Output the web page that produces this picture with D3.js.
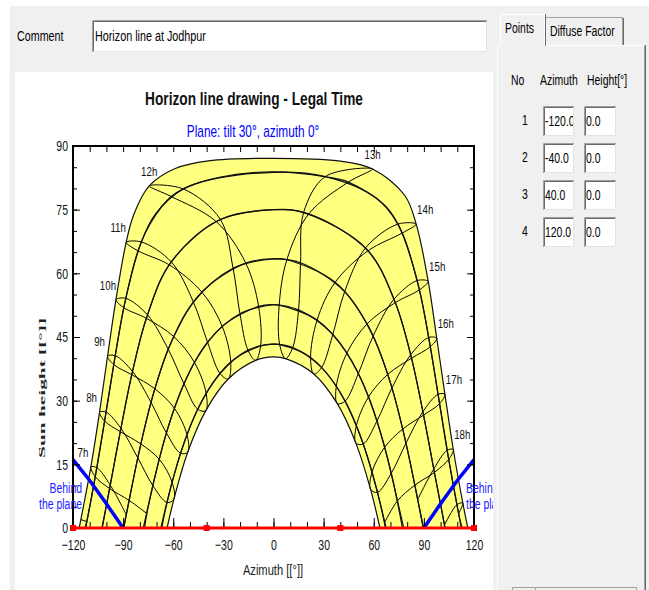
<!DOCTYPE html>
<html>
<head>
<meta charset="utf-8">
<script src="https://cdn.jsdelivr.net/npm/d3@7"></script>
<style>
body { margin: 0; background: #fff; }
svg { display: block; font-family: "Liberation Sans", Arial, sans-serif; }
</style>
</head>
<body>
<svg id="chart" width="649" height="590"></svg>
<script>
// legal hours of the hour lines
const hours = [6, 7, 8, 9, 10, 11, 12, 13, 14, 15, 16, 17, 18, 19];
const dateNames = ['19 Jan', '21 Feb', '20 Mar', '20 Apr', '22 May', '22 Jun', '23 Jul', '23 Aug', '23 Sep', '23 Oct', '22 Nov', '22 Dec'];

// sun azimuth / height at each legal hour (null = sun below horizon)
const azJan = [null, null, -63.7, -55.6, -45.4, -32.0, -15.3, 3.7, 22.2, 37.6, 49.6, 59.0, 66.4, null];
const hJan  = [null, null, 6.0, 17.6, 28.0, 36.4, 41.9, 43.2, 40.2, 33.4, 24.1, 13.2, 1.2, null];
const azFeb = [null, null, -72.2, -64.1, -53.6, -39.5, -20.1, 3.4, 26.1, 43.9, 56.9, 66.5, 74.2, null];
const hFeb  = [null, null, 10.0, 22.4, 34.0, 43.8, 50.5, 52.5, 49.0, 41.2, 30.9, 19.0, 6.4, null];
const azMar = [null, -88.1, -81.2, -73.3, -63.0, -47.9, -24.2, 8.0, 36.9, 56.0, 68.4, 77.3, 84.6, null];
const hMar  = [null, 3.1, 16.5, 29.6, 42.1, 53.2, 61.2, 63.2, 57.9, 48.1, 36.2, 23.3, 10.1, null];
const azApr = [null, -97.7, -91.3, -84.4, -75.4, -61.2, -31.8, 21.1, 56.5, 72.9, 82.6, 89.8, 96.3, null];
const hApr  = [null, 10.1, 23.5, 36.9, 50.2, 62.7, 72.7, 74.0, 65.3, 53.1, 40.0, 26.6, 13.1, null];
const azMay = [-111.8, -105.7, -100.2, -94.7, -88.4, -79.1, -54.1, 44.8, 77.1, 87.3, 93.8, 99.4, 104.9, 110.8];
const hMay  = [1.5, 14.2, 27.3, 40.6, 54.1, 67.4, 79.9, 81.5, 69.5, 56.1, 42.7, 29.3, 16.2, 3.4];
const azJun = [-115.3, -109.3, -104.1, -99.3, -94.3, -88.2, -74.4, 59.3, 85.4, 92.6, 97.7, 102.6, 107.6, 113.3];
const hJun  = [2.0, 14.4, 27.3, 40.5, 53.8, 67.3, 80.6, 84.6, 71.6, 58.1, 44.7, 31.5, 18.5, 5.9];
const azJul = [null, -106.7, -101.1, -95.6, -89.6, -81.1, -61.2, 31.0, 74.4, 86.0, 92.9, 98.5, 103.9, 109.8];
const hJul  = [null, 12.1, 25.2, 38.5, 51.9, 65.3, 78.1, 82.8, 71.6, 58.3, 44.9, 31.5, 18.3, 5.5];
const azAug = [null, -98.1, -91.7, -84.8, -76.1, -62.4, -34.3, 18.0, 55.1, 72.1, 82.1, 89.4, 95.9, 102.3];
const hAug  = [null, 9.3, 22.7, 36.1, 49.4, 62.0, 72.2, 74.3, 66.0, 53.9, 40.8, 27.4, 13.9, 0.7];
const azSep = [null, -86.4, -79.4, -71.0, -59.7, -42.9, -16.6, 16.2, 42.6, 59.6, 70.9, 79.3, 86.3, null];
const hSep  = [null, 6.5, 19.8, 32.8, 45.1, 55.6, 62.4, 62.5, 55.7, 45.2, 33.0, 20.0, 6.7, null];
const azOct = [null, -75.8, -68.4, -59.3, -47.3, -30.7, -8.9, 15.0, 35.5, 50.8, 61.9, 70.5, null, null];
const hOct  = [null, 3.4, 16.2, 28.2, 39.0, 47.5, 52.2, 51.4, 45.6, 36.4, 25.2, 12.9, null, null];
const azNov = [null, null, -60.7, -51.8, -40.3, -25.6, -7.7, 11.5, 28.8, 42.9, 53.7, 62.2, null, null];
const hNov  = [null, null, 10.8, 22.0, 31.7, 39.1, 42.9, 42.5, 37.8, 29.9, 19.8, 8.4, null, null];
const azDec = [null, null, -59.6, -51.3, -40.6, -27.1, -10.7, 7.2, 24.1, 38.2, 49.3, 58.1, null, null];
const hDec  = [null, null, 6.8, 17.9, 27.6, 35.1, 39.5, 39.9, 36.3, 29.3, 20.0, 9.1, null, null];

// sunrise / sunset azimuths
const riseAz = [-66.9, -77.9, -89.6, -102.7, -112.8, -116.3, -112.4, -102.5, -89.8, -77.2, -67.4, -63.7];
const setAz  = [66.9, 77.9, 89.6, 102.7, 112.8, 116.3, 112.4, 102.5, 89.8, 77.2, 67.4, 63.7];

// extra points of the date curves around noon
const noonAzJan = [0], noonHJan = [43.3];
const noonAzFeb = [0], noonHFeb = [52.6];
const noonAzMar = [0], noonHMar = [63.4];
const noonAzApr = [0], noonHApr = [75.0];
const noonAzMay = [-70.8, -31.7, 0, 31.7, 67.1], noonHMay = [73.9, 82.7, 83.9, 82.7, 75.8];
const noonAzJun = [-83.5, -58.8, -38.9, 0, 38.9, 78.5], noonHJun = [74.0, 84.7, 86.5, 87.1, 86.5, 78.4];
const noonAzJul = [-73.6, -42.4, 0, 61.3], noonHJul = [71.8, 81.6, 83.8, 77.8];
const noonAzAug = [0], noonHAug = [75.0];
const noonAzSep = [0], noonHSep = [63.4];
const noonAzOct = [0], noonHOct = [52.6];
const noonAzNov = [0], noonHNov = [43.3];
const noonAzDec = [0], noonHDec = [40.3];

// "behind the plane" limits and horizon line points
const behindAzL = [-120, -110, -100, -90], behindHL = [16.1, 11.2, 5.7, 0];
const behindAzR = [90, 100, 110, 120], behindHR = [0, 5.7, 11.2, 16.1];
const horizonAz = [-120, -40, 40, 120], horizonH = [0, 0, 0, 0];

const xTicks = [-120, -90, -60, -30, 0, 30, 60, 90, 120];
const yTicks = [0, 15, 30, 45, 60, 75, 90];
const labelHours = [7, 8, 9, 10, 11, 12, 13, 14, 15, 16, 17, 18];

// table on the right
const pointNo = ['1', '2', '3', '4'];
const pointAz = ['-120.0', '-40.0', '40.0', '120.0'];
const pointH = ['0.0', '0.0', '0.0', '0.0'];

const dateAz = [azJan, azFeb, azMar, azApr, azMay, azJun, azJul, azAug, azSep, azOct, azNov, azDec];
const dateH = [hJan, hFeb, hMar, hApr, hMay, hJun, hJul, hAug, hSep, hOct, hNov, hDec];
const noonAz = [noonAzJan, noonAzFeb, noonAzMar, noonAzApr, noonAzMay, noonAzJun, noonAzJul, noonAzAug, noonAzSep, noonAzOct, noonAzNov, noonAzDec];
const noonH = [noonHJan, noonHFeb, noonHMar, noonHApr, noonHMay, noonHJun, noonHJul, noonHAug, noonHSep, noonHOct, noonHNov, noonHDec];

const SX = 0.74; // the screenshot is squeezed horizontally
const svg = d3.select('#chart');

function label(parent, x, y, str, size, opts) {
    opts = opts || {};
    return parent.append('text')
        .attr('transform', `translate(${x},${y}) scale(${opts.sx || SX},1)`)
        .attr('text-anchor', opts.anchor || 'start')
        .attr('font-size', size)
        .attr('font-weight', opts.bold ? 'bold' : null)
        .attr('fill', opts.color || '#000')
        .text(str);
}

function sunken(x0, y0, w, h) {
    svg.append('rect').attr('x', x0).attr('y', y0).attr('width', w).attr('height', h).attr('fill', '#fff');
    svg.append('path').attr('d', `M${x0 + 0.5},${y0 + h}V${y0 + 0.5}H${x0 + w}`).attr('fill', 'none').attr('stroke', '#a0a0a0');
    svg.append('path').attr('d', `M${x0 + 1.5},${y0 + h - 1}V${y0 + 1.5}H${x0 + w - 1}`).attr('fill', 'none').attr('stroke', '#696969');
    svg.append('path').attr('d', `M${x0 + 1},${y0 + h - 0.5}H${x0 + w - 0.5}V${y0 + 1}`).attr('fill', 'none').attr('stroke', '#e3e3e3');
}

// window background
svg.append('rect').attr('x', 10).attr('y', 6).attr('width', 639).attr('height', 584).attr('fill', '#f0f0f0');
svg.append('rect').attr('x', 15).attr('y', 72).attr('width', 478).attr('height', 518).attr('fill', '#fff');

// comment field
label(svg, 17, 41, 'Comment', 14.5);
sunken(92, 20, 395, 32);
label(svg, 95, 41, 'Horizon line at Jodhpur', 15, { sx: 0.72 });

// tabs and pane
svg.append('path').attr('d', 'M497.5,590V45.5H500.5M545.5,45.5H644.5').attr('fill', 'none').attr('stroke', '#fff');
svg.append('path').attr('d', 'M644.5,45.5V590').attr('fill', 'none').attr('stroke', '#a0a0a0');
svg.append('path').attr('d', 'M645.5,45V590').attr('fill', 'none').attr('stroke', '#696969');
svg.append('path').attr('d', 'M545.5,45V17.5H622.5V45').attr('fill', '#f0f0f0').attr('stroke', '#a0a0a0');
svg.append('path').attr('d', 'M623.5,18V45').attr('stroke', '#696969');
svg.append('path').attr('d', 'M500.5,46V14.5H544.5V46').attr('fill', '#f0f0f0').attr('stroke', '#fff');
svg.append('path').attr('d', 'M545.5,14V46').attr('stroke', '#696969');
label(svg, 505, 33, 'Points', 14.5, { sx: 0.72 });
label(svg, 550, 36, 'Diffuse Factor', 14.5, { sx: 0.72 });

label(svg, 511, 85, 'No', 14.5, { sx: 0.72 });
label(svg, 540, 85, 'Azimuth', 14.5, { sx: 0.72 });
label(svg, 587, 85, 'Height[°]', 14.5, { sx: 0.72 });

const defs = svg.append('defs');
pointNo.forEach((n, i) => {
    const top = 106 + i * 37;
    label(svg, 525, top + 19, n, 14.5, { anchor: 'middle', sx: 0.72 });
    sunken(543, top, 31, 30);
    sunken(584, top, 32, 30);
    defs.append('clipPath').attr('id', 'cb' + i)
        .append('rect').attr('x', 545).attr('y', top).attr('width', 28).attr('height', 30);
    label(svg.append('g').attr('clip-path', `url(#cb${i})`), 545, top + 20, pointAz[i], 14.5, { sx: 0.72 });
    label(svg, 586, top + 20, pointH[i], 14.5, { sx: 0.72 });
});
svg.append('path').attr('d', 'M512.5,598V587.5H636.5V598M535.5,587V598').attr('fill', 'none').attr('stroke', '#a0a0a0');

// CHART

const x = d3.scaleLinear().domain([-120, 120]).range([73, 474]);
const y = d3.scaleLinear().domain([0, 90]).range([528, 146]);

defs.append('clipPath').attr('id', 'plot')
    .append('rect').attr('x', 73).attr('y', 146).attr('width', 401).attr('height', 382);

const plot = svg.append('g').attr('clip-path', 'url(#plot)');

const curveLine = d3.line()
    .x(d => x(d[0]))
    .y(d => y(d[1]))
    .curve(d3.curveCatmullRom.alpha(0.5));

function datePoints(d) {
    const pts = [[riseAz[d], 0], [setAz[d], 0]];
    hours.forEach((t, i) => {
        if (dateAz[d][i] !== null) pts.push([dateAz[d][i], dateH[d][i]]);
    });
    noonAz[d].forEach((a, i) => pts.push([a, noonH[d][i]]));
    return pts.sort((a, b) => a[0] - b[0]);
}

// yellow band between the solstices
const juneD = curveLine(datePoints(5));
const decD = curveLine(datePoints(11).reverse());
plot.append('path')
    .attr('d', juneD + 'L' + decD.slice(1) + 'Z')
    .attr('fill', '#ffff80');

// hour lines (analemmas)
hours.forEach((t, i) => {
    const pts = [];
    dateAz.forEach((arr, d) => {
        if (arr[i] !== null) pts.push([arr[i], dateH[d][i]]);
    });
    const closed = pts.length === dateAz.length;
    plot.append('path')
        .attr('d', d3.line().x(d => x(d[0])).y(d => y(d[1]))
            .curve(closed ? d3.curveCatmullRomClosed.alpha(0.5) : d3.curveCatmullRom.alpha(0.5))(pts))
        .attr('fill', 'none')
        .attr('stroke', '#000')
        .attr('stroke-width', 1);
});

// date curves
dateNames.forEach((n, d) => {
    plot.append('path')
        .attr('d', curveLine(datePoints(d)))
        .attr('fill', 'none')
        .attr('stroke', '#111')
        .attr('stroke-width', 1.2);
});

// behind the plane
const straight = d3.line().x(d => x(d[0])).y(d => y(d[1]));
[[behindAzL, behindHL], [behindAzR, behindHR]].forEach(([az, h]) => {
    svg.append('path')
        .attr('d', straight(az.map((a, i) => [a, h[i]])))
        .attr('fill', 'none')
        .attr('stroke', '#0000ff')
        .attr('stroke-width', 3.5);
});

// frame and axes
svg.append('rect').attr('x', 73).attr('y', 146).attr('width', 401).attr('height', 382)
    .attr('fill', 'none').attr('stroke', '#000').attr('stroke-width', 2);

function axis(gen, tx, ty, values, size, withLabels, pad) {
    const g = svg.append('g')
        .attr('transform', `translate(${tx},${ty})`)
        .call(gen.tickValues(values).tickSize(size).tickPadding(pad || 3)
            .tickFormat(withLabels ? d3.format('d') : ''));
    g.select('.domain').remove();
    g.selectAll('line').attr('stroke', '#000');
    g.selectAll('text')
        .attr('font-size', 15)
        .attr('font-family', '"Liberation Sans", Arial, sans-serif')
        .attr('fill', '#111')
        .attr('transform', 'scale(0.7,1)');
    return g;
}

axis(d3.axisBottom(x), 0, 528, d3.range(-120, 121, 10), -6, false);
axis(d3.axisBottom(x), 0, 528, xTicks, -10, true, 11);
axis(d3.axisTop(x), 0, 146, d3.range(-120, 121, 10), -6, false);
axis(d3.axisLeft(y), 73, 0, d3.range(0, 91, 5), -4, false);
axis(d3.axisLeft(y), 73, 0, yTicks, -7, true, 7.2);
axis(d3.axisRight(y), 474, 0, d3.range(0, 91, 5), -4, false);
axis(d3.axisRight(y), 474, 0, yTicks, -7, false);

// horizon line
svg.append('path')
    .attr('d', straight(horizonAz.map((a, i) => [a, horizonH[i]])))
    .attr('fill', 'none')
    .attr('stroke', '#ff0000')
    .attr('stroke-width', 3);
svg.selectAll('.hpt')
    .data(horizonAz)
    .enter()
    .append('rect')
    .attr('class', 'hpt')
    .attr('x', (a) => x(a) - 3)
    .attr('y', y(0) - 3)
    .attr('width', 6)
    .attr('height', 6)
    .attr('fill', '#ff0000');

// hour labels, next to the June point of each hour
labelHours.forEach((t) => {
    const i = hours.indexOf(t);
    const dx = t < 12 ? -8 : (t > 13 ? 9 : 0);
    label(svg, x(azJun[i]) + dx, y(hJun[i]) - 10, t + 'h', 13.5, { anchor: 'middle', color: '#111', sx: 0.72 });
});

// texts
label(svg, 82, 493, 'Behind', 14.5, { anchor: 'end', color: '#2222ff', sx: 0.72 });
label(svg, 82, 509, 'the plane', 14.5, { anchor: 'end', color: '#2222ff', sx: 0.72 });
defs.append('clipPath').attr('id', 'rt')
    .append('rect').attr('x', 460).attr('y', 470).attr('width', 33).attr('height', 50);
const rt = svg.append('g').attr('clip-path', 'url(#rt)');
label(rt, 466, 493, 'Behind', 14.5, { color: '#2222ff', sx: 0.72 });
label(rt, 466, 509, 'the plane', 14.5, { color: '#2222ff', sx: 0.72 });

label(svg, 254, 105, 'Horizon line drawing - Legal Time', 19, { anchor: 'middle', bold: true, color: '#111', sx: 0.72 });
label(svg, 253, 137, 'Plane: tilt 30°, azimuth 0°', 16, { anchor: 'middle', color: '#0000ff', sx: 0.74 });
label(svg, 273, 575, 'Azimuth [[°]]', 15.5, { anchor: 'middle', color: '#222', sx: 0.72 });

svg.append('text')
    .attr('transform', 'translate(45,388) scale(0.7,1) rotate(-90)')
    .attr('text-anchor', 'middle')
    .attr('font-family', '"Liberation Serif", "Times New Roman", serif')
    .attr('font-weight', 'bold')
    .attr('font-size', 13)
    .attr('textLength', 140)
    .attr('lengthAdjust', 'spacingAndGlyphs')
    .attr('fill', '#222')
    .text('Sun height [[°]]');
</script>
</body>
</html>
